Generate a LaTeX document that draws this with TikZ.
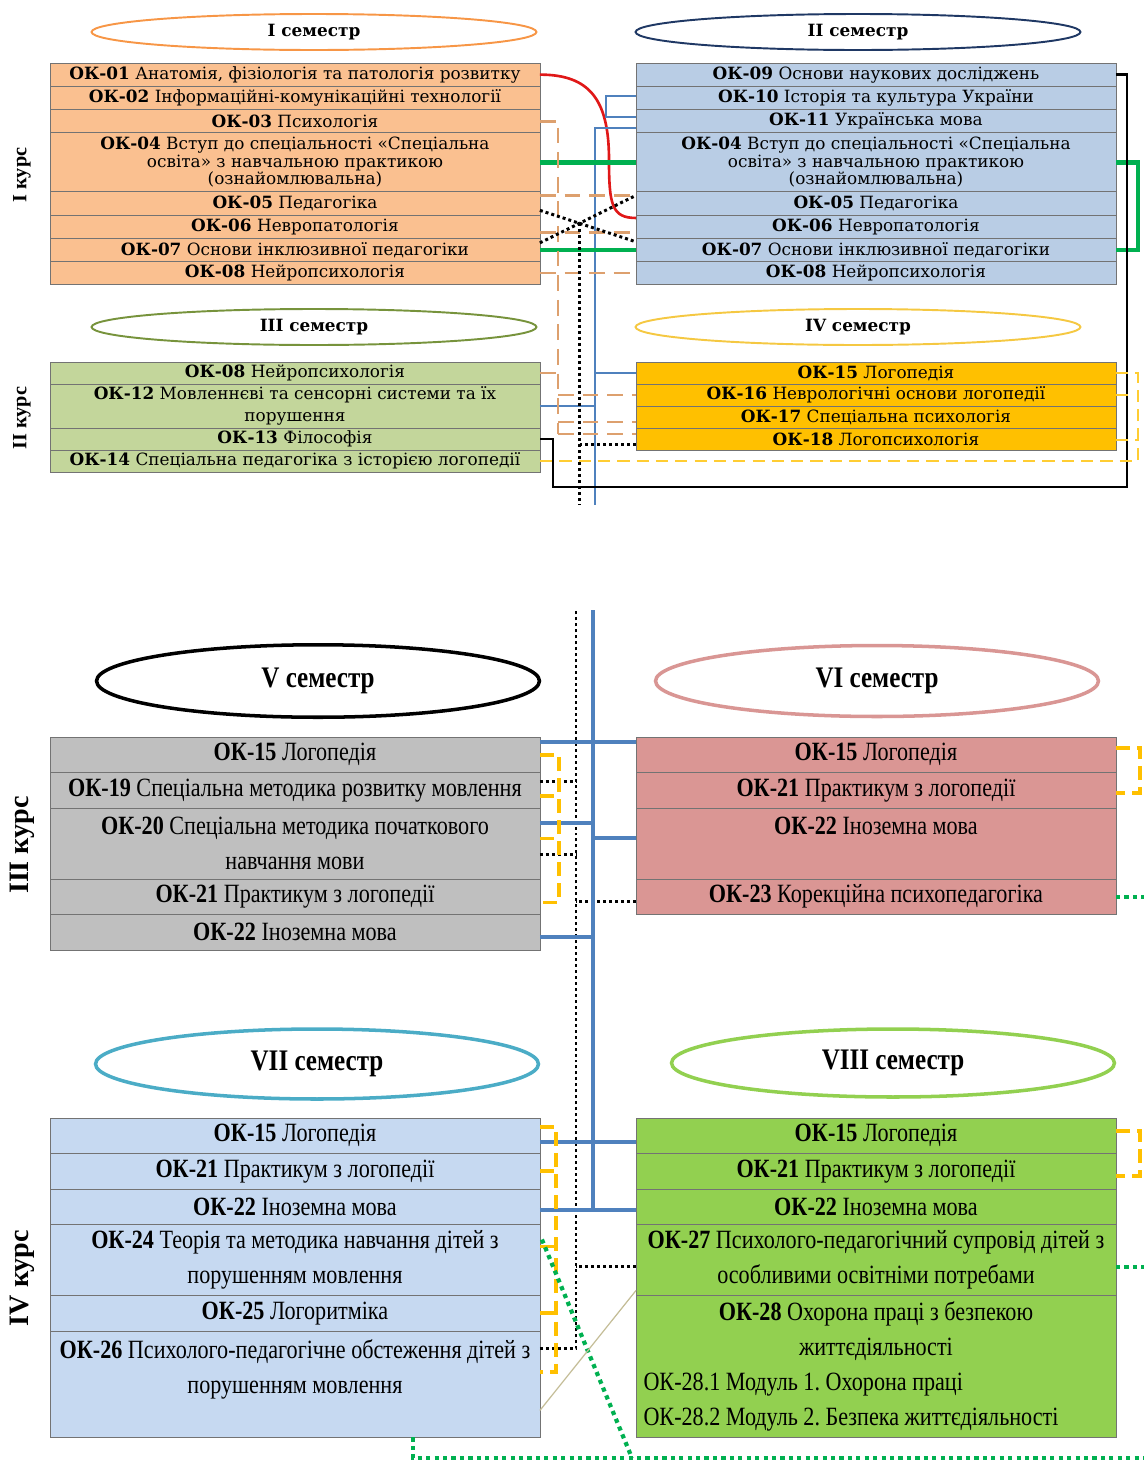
\documentclass[tikz,border=0pt]{standalone}
\usepackage{fontspec}
\setmainfont{Liberation Serif}
\newfontfamily\upfont{DejaVu Serif}
\newfontfamily\lowfont[FakeStretch=0.84]{Liberation Serif}
\newcommand\upsz{\upfont\fontsize{9.6}{9.9}\selectfont}
\newcommand\lowsz{\lowfont\fontsize{15}{19.8}\selectfont}
\usetikzlibrary{calc,positioning,shapes.geometric}
\definecolor{orfill}{HTML}{FAC090}
\definecolor{blfill}{HTML}{B9CDE5}
\definecolor{gnfill}{HTML}{C3D69B}
\definecolor{gdfill}{HTML}{FFC000}
\definecolor{gyfill}{HTML}{BFBFBF}
\definecolor{pkfill}{HTML}{DA9694}
\definecolor{lbfill}{HTML}{C6D9F1}
\definecolor{lgfill}{HTML}{92D050}
\definecolor{semI}{HTML}{F79646}
\definecolor{semII}{HTML}{1F3864}
\definecolor{semIII}{HTML}{77933C}
\definecolor{semIV}{HTML}{F5C842}
\definecolor{semVI}{HTML}{D99694}
\definecolor{semVII}{HTML}{4BACC6}
\definecolor{semVIII}{HTML}{92D050}
\definecolor{lnred}{HTML}{E01818}
\definecolor{lnblue}{HTML}{4F81BD}
\definecolor{lngreen}{HTML}{00B050}
\definecolor{lnorange}{HTML}{DDA06E}
\definecolor{lnyellow}{HTML}{FFC000}
\definecolor{lntan}{HTML}{C4BD97}
\frenchspacing

\begin{document}
\begin{tikzpicture}[x=0.02cm,y=-0.02cm]
	\tikzstyle{cell}=[draw=black!55,outer sep=0pt,inner xsep=0.15cm,inner ysep=0pt,align=flush center]
	\tikzstyle{topL}=[cell,text width=9.5cm,minimum height=0.465cm,font=\upsz]
	\tikzstyle{topR}=[cell,text width=9.3cm,minimum height=0.465cm,font=\upsz]
	\tikzstyle{lowL}=[cell,text width=9.5cm,minimum height=0.71cm,font=\lowsz]
	\tikzstyle{lowR}=[cell,text width=9.3cm,minimum height=0.71cm,font=\lowsz]
	\tikzstyle{sem}=[ellipse,draw,line width=1.1pt,minimum width=8.9cm,minimum height=0.72cm,inner sep=0pt,font=\upsz\bfseries]
	\tikzstyle{bigsem}=[ellipse,draw,line width=2pt,minimum width=8.86cm,minimum height=1.45cm,inner sep=0pt,font=\lowfont\fontsize{17}{20}\selectfont\bfseries]
	\tikzstyle{kurs}=[rotate=90,font=\fontsize{11.5}{13}\selectfont\bfseries]
	\tikzstyle{bigkurs}=[rotate=90,font=\fontsize{16}{18}\selectfont\bfseries]
	\tikzstyle{redln}=[draw=lnred,line width=1.5pt]
	\tikzstyle{bluln}=[draw=lnblue,line width=1.3pt]
	\tikzstyle{bluthk}=[draw=lnblue,line width=2.2pt]
	\tikzstyle{grnln}=[draw=lngreen,line width=2.6pt]
	\tikzstyle{orln}=[draw=lnorange,line width=1.6pt,dash pattern=on 9pt off 5pt]
	\tikzstyle{dotln}=[draw=black,line width=1.7pt,dash pattern=on 1.7pt off 1.7pt]
	\tikzstyle{blkln}=[draw=black,line width=1.5pt]
	\tikzstyle{yelln}=[draw=lnyellow!80!white,line width=1.4pt,dash pattern=on 7pt off 4pt]
	\tikzstyle{yelthk}=[draw=lnyellow,line width=2pt,dash pattern=on 8pt off 4pt]
	\tikzstyle{gdotln}=[draw=lngreen,line width=2.4pt,dash pattern=on 2.4pt off 2.4pt]
	\tikzstyle{tanln}=[draw=lntan,line width=0.7pt]
	\useasboundingbox (0,0) rectangle (1144,1461);

	\node[sem,draw=semI] (s1) at (314,32) {I семестр};
	\node[sem,draw=semII] (s2) at (858,32) {II семестр};
	\node[sem,draw=semIII] (s3) at (314,327) {III семестр};
	\node[sem,draw=semIV] (s4) at (858,327) {IV семестр};
	\node[kurs] (k1) at (22,175) {I курс};
	\node[kurs] (k2) at (22,418) {II курс};

	\node[topL,fill=orfill,anchor=north west] (a1) at (50,63) {\textbf{ОК-01} Анатомія, фізіологія  та патологія розвитку};
	\node[topL,fill=orfill,below=0pt of a1] (a2) {\textbf{ОК-02} Інформаційні-комунікаційні технології};
	\node[topL,fill=orfill,below=0pt of a2] (a3) {\textbf{ОК-03} Психологія};
	\node[topL,fill=orfill,below=0pt of a3,minimum height=1.18cm] (a4) {\textbf{ОК-04} Вступ до спеціальності «Спеціальна\\освіта» з навчальною практикою\\(ознайомлювальна)};
	\node[topL,fill=orfill,below=0pt of a4] (a5) {\textbf{ОК-05} Педагогіка};
	\node[topL,fill=orfill,below=0pt of a5] (a6) {\textbf{ОК-06} Невропатологія};
	\node[topL,fill=orfill,below=0pt of a6] (a7) {\textbf{ОК-07} Основи інклюзивної педагогіки};
	\node[topL,fill=orfill,below=0pt of a7] (a8) {\textbf{ОК-08} Нейропсихологія};

	\node[topR,fill=blfill,anchor=north west] (b1) at (636,63) {\textbf{ОК-09} Основи наукових досліджень};
	\node[topR,fill=blfill,below=0pt of b1] (b2) {\textbf{ОК-10} Історія та культура України};
	\node[topR,fill=blfill,below=0pt of b2] (b3) {\textbf{ОК-11} Українська мова};
	\node[topR,fill=blfill,below=0pt of b3,minimum height=1.18cm] (b4) {\textbf{ОК-04} Вступ до спеціальності «Спеціальна\\освіта» з навчальною практикою\\(ознайомлювальна)};
	\node[topR,fill=blfill,below=0pt of b4] (b5) {\textbf{ОК-05} Педагогіка};
	\node[topR,fill=blfill,below=0pt of b5] (b6) {\textbf{ОК-06} Невропатологія};
	\node[topR,fill=blfill,below=0pt of b6] (b7) {\textbf{ОК-07} Основи інклюзивної педагогіки};
	\node[topR,fill=blfill,below=0pt of b7] (b8) {\textbf{ОК-08} Нейропсихологія};

	\node[topL,fill=gnfill,anchor=north west,minimum height=0.44cm] (c1) at (50,362) {\textbf{ОК-08} Нейропсихологія};
	\node[topL,fill=gnfill,below=0pt of c1,minimum height=0.88cm] (c2) {\textbf{ОК-12} Мовленнєві та сенсорні системи та їх\\[3pt]порушення};
	\node[topL,fill=gnfill,below=0pt of c2,minimum height=0.44cm] (c3) {\textbf{ОК-13} Філософія};
	\node[topL,fill=gnfill,below=0pt of c3,minimum height=0.44cm] (c4) {\textbf{ОК-14} Спеціальна педагогіка  з історією логопедії};

	\node[topR,fill=gdfill,anchor=north west,minimum height=0.44cm] (d1) at (636,362) {\textbf{ОК-15} Логопедія};
	\node[topR,fill=gdfill,below=0pt of d1,minimum height=0.44cm] (d2) {\textbf{ОК-16} Неврологічні основи логопедії};
	\node[topR,fill=gdfill,below=0pt of d2,minimum height=0.44cm] (d3) {\textbf{ОК-17} Спеціальна психологія};
	\node[topR,fill=gdfill,below=0pt of d3,minimum height=0.44cm] (d4) {\textbf{ОК-18} Логопсихологія};

	\draw[redln] (a1.east) .. controls (590,74.6) and (609,100) .. (609,160) .. controls (609,205) and (612,218) .. ($(b6.north west)+(0,3)$);
	\draw[bluln] ($(b2.west)+(0,-2)$) -- ++(-30,0) |- ($(b3.west)+(0,-4)$);
	\coordinate (bt) at (595,505);
	\draw[bluln] ($(b3.west)+(0,7)$) -| (bt);
	\draw[bluln] (bt |- d1.west) -- (d1.west);
	\draw[bluln] (c2.east) -- (c2.east -| bt);
	\draw[grnln] (a4.east) -- (b4.west);
	\draw[grnln] (a7.east) -- (b7.west);
	\draw[grnln] (b4.east) -- ++(22,0) |- (b7.east);
	\coordinate (ot) at (558,434);
	\draw[orln] (a3.east) -| (ot);
	\draw[orln] ($(a5.east)+(0,-8)$) -- ($(b5.west)+(0,-8)$);
	\draw[orln] ($(a6.east)+(0,6)$) -- ($(b6.west)+(0,6)$);
	\draw[orln] (a8.east) -- (b8.west);
	\draw[orln] (c1.east) -- (c1.east -| ot);
	\draw[orln] (ot |- d2.west) -- (d2.west);
	\draw[orln] ($(ot |- d3.west)+(0,5)$) -- ($(d3.west)+(0,5)$);
	\draw[orln] (ot) -- (ot -| d4.west);
	\coordinate (xc) at (579.5,223.4);
	\coordinate (dt) at (579.5,505);
	\draw[dotln] ($(a5.east)+(0,7)$) -- ($(b7.west)+(0,-8)$);
	\draw[dotln] ($(a7.east)+(0,-7)$) -- ($(b5.west)+(0,-8)$);
	\draw[dotln] (xc) -- (dt);
	\draw[dotln] ($(dt |- d4.west)+(0,6)$) -- ($(d4.west)+(0,6)$);
	\coordinate (kb) at (553,487);
	\draw[blkln] (b1.east) -- ++(11,0) |- (kb) |- (c3.east);
	\draw[yelln] (c4.east) -- ++(598,0) |- (d1.east);
	\draw[yelln] (d2.east) -- ++(14,0);
	\draw[yelln] ($(d4.east)+(0,1)$) -- ++(22,0);

	\node[bigsem,draw=black] (s5) at (318,681) {V семестр};
	\node[bigsem,draw=semVI,minimum height=1.42cm] (s6) at (877,681) {VI семестр};
	\node[bigsem,draw=semVII,minimum height=1.4cm] (s7) at (317,1064) {VII семестр};
	\node[bigsem,draw=semVIII,minimum height=1.36cm] (s8) at (893,1063) {VIII семестр};
	\node[bigkurs] (k3) at (22,845) {III курс};
	\node[bigkurs] (k4) at (22,1278) {IV курс};

	\node[lowL,fill=gyfill,anchor=north west] (e1) at (50,737) {\textbf{ОК-15} Логопедія};
	\node[lowL,fill=gyfill,below=0pt of e1] (e2) {\textbf{ОК-19} Спеціальна методика розвитку мовлення};
	\node[lowL,fill=gyfill,below=0pt of e2,minimum height=1.42cm] (e3) {\textbf{ОК-20} Спеціальна методика початкового\\навчання мови};
	\node[lowL,fill=gyfill,below=0pt of e3] (e4) {\textbf{ОК-21} Практикум з логопедії};
	\node[lowL,fill=gyfill,below=0pt of e4] (e5) {\textbf{ОК-22} Іноземна мова};

	\node[lowR,fill=pkfill,anchor=north west] (f1) at (636,737) {\textbf{ОК-15} Логопедія};
	\node[lowR,fill=pkfill,below=0pt of f1] (f2) {\textbf{ОК-21} Практикум з логопедії};
	\node[lowR,fill=pkfill,below=0pt of f2,minimum height=1.42cm] (f3) {\textbf{ОК-22} Іноземна мова\\~};
	\node[lowR,fill=pkfill,below=0pt of f3] (f4) {\textbf{ОК-23} Корекційна психопедагогіка};

	\node[lowL,fill=lbfill,anchor=north west] (g1) at (50,1118) {\textbf{ОК-15} Логопедія};
	\node[lowL,fill=lbfill,below=0pt of g1] (g2) {\textbf{ОК-21} Практикум з логопедії};
	\node[lowL,fill=lbfill,below=0pt of g2] (g3) {\textbf{ОК-22} Іноземна мова};
	\node[lowL,fill=lbfill,below=0pt of g3,minimum height=1.42cm] (g4) {\textbf{ОК-24} Теорія та методика навчання дітей з\\порушенням мовлення};
	\node[lowL,fill=lbfill,below=0pt of g4] (g5) {\textbf{ОК-25} Логоритміка};
	\node[lowL,fill=lbfill,below=0pt of g5,minimum height=2.13cm] (g6) {\textbf{ОК-26} Психолого-педагогічне обстеження дітей з\\порушенням мовлення\\~};

	\node[lowR,fill=lgfill,anchor=north west] (h1) at (636,1118) {\textbf{ОК-15} Логопедія};
	\node[lowR,fill=lgfill,below=0pt of h1] (h2) {\textbf{ОК-21} Практикум з логопедії};
	\node[lowR,fill=lgfill,below=0pt of h2] (h3) {\textbf{ОК-22} Іноземна мова};
	\node[lowR,fill=lgfill,below=0pt of h3,minimum height=1.42cm] (h4) {\textbf{ОК-27} Психолого-педагогічний супровід дітей з\\особливими освітніми потребами};
	\node[lowR,fill=lgfill,below=0pt of h4,minimum height=2.84cm,align=flush left] (h5) {\makebox[\linewidth]{\textbf{ОК-28} Охорона праці з безпекою}\\\makebox[\linewidth]{життєдіяльності}\\ОК-28.1 Модуль 1. Охорона праці\\ОК-28.2 Модуль 2. Безпека життєдіяльності};

	\coordinate (dt2) at (576,610);
	\coordinate (bt2) at (593,610);
	\coordinate (g6a) at ($(g6.north east)+(0,18)$);
	\draw[dotln] (g6a) -- (g6a -| dt2) -- (dt2);
	\draw[dotln] ($(e2.east)+(0,-9)$) coordinate (p) -- (p -| dt2);
	\draw[dotln] ($(e3.east)+(0,11)$) coordinate (p) -- (p -| dt2);
	\draw[dotln] ($(f4.west)+(0,5)$) coordinate (p) -- (p -| dt2);
	\draw[dotln] ($(h4.west)+(0,7)$) coordinate (p) -- (p -| dt2);
	\coordinate (g3b) at ($(g3.east)+(0,3)$);
	\draw[bluthk] (bt2) -- (bt2 |- g3b);
	\draw[bluthk] ($(e1.north east)+(0,5)$) -- ($(f1.north west)+(0,5)$);
	\draw[bluthk] ($(e3.north east)+(0,15)$) coordinate (p) -- (p -| bt2);
	\draw[bluthk] ($(f3.north west)+(0,30)$) coordinate (p) -- (p -| bt2);
	\draw[bluthk] ($(e5.east)+(0,5)$) coordinate (p) -- (p -| bt2);
	\draw[bluthk] ($(g1.east)+(0,6)$) -- ($(h1.west)+(0,6)$);
	\draw[bluthk] (g3b) -- ($(h3.west)+(0,3)$);
	\draw[yelthk] (e1.east) -- ++(19,0) |- ($(e4.east)+(0,6)$);
	\draw[yelthk] ($(e2.east)+(0,6)$) -- ++(19,0);
	\draw[yelthk] ($(e3.east)+(0,-5)$) -- ++(19,0);
	\draw[yelthk] ($(f1.east)+(0,-7)$) -- ++(24,0) |- ($(f2.east)+(0,3)$);
	\draw[yelthk] ($(g1.east)+(0,-9)$) -- ++(16,0) |- ($(g6.north east)+(0,41)$);
	\draw[yelthk] (g2.east) -- ++(16,0);
	\draw[yelthk] ($(g4.north east)+(0,22)$) -- ++(16,0);
	\draw[yelthk] (g5.east) -- ++(16,0);
	\draw[yelthk] ($(h1.east)+(0,-5)$) -- ++(24,0) |- ($(h2.east)+(0,5)$);
	\coordinate (ge) at (1144,1458);
	\coordinate (gd) at (632,1458);
	\draw[gdotln] (f4.east) -- ++(28,0);
	\draw[gdotln] ($(h4.east)+(0,7)$) -- ++(28,0);
	\draw[gdotln] ($(g6.south west)+(363,0)$) |- (ge);
	\draw[gdotln] ($(g4.north east)+(2,15)$) -- (gd);
	\draw[tanln] ($(h4.south west)+(0,-5)$) -- ($(g6.south east)+(0,-27)$);
\end{tikzpicture}
\end{document}
